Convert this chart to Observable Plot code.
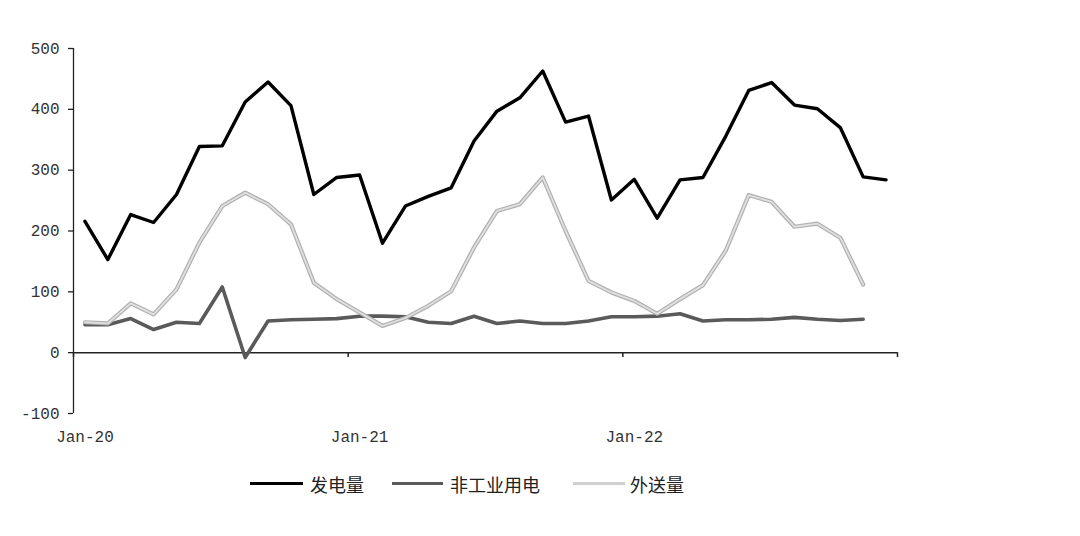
<!DOCTYPE html>
<html><head><meta charset="utf-8">
<script src="https://cdn.jsdelivr.net/npm/d3@7"></script>
<script src="https://cdn.jsdelivr.net/npm/@observablehq/plot@0.6"></script>
<style>
body{margin:0;background:#fff;}
#wrap{position:relative;width:1080px;height:536px;background:#fff;overflow:hidden;}
.sw{position:absolute;height:0;}
.lt{position:absolute;font-family:"Noto Sans CJK SC";font-size:18px;line-height:18px;color:#222;white-space:nowrap;}
</style></head><body><div id="wrap"><div id="chart"></div></div>
<script>
const months = ["2020-01","2020-02","2020-03","2020-04","2020-05","2020-06","2020-07","2020-08","2020-09","2020-10","2020-11","2020-12",
  "2021-01","2021-02","2021-03","2021-04","2021-05","2021-06","2021-07","2021-08","2021-09","2021-10","2021-11","2021-12",
  "2022-01","2022-02","2022-03","2022-04","2022-05","2022-06","2022-07","2022-08","2022-09","2022-10","2022-11","2022-12"];
const generation = [216,153,227,214,260,339,340,412,445,406,260,288,292,180,241,257,271,348,397,419,463,379,389,251,285,221,284,288,356,431,444,407,401,370,289,284];
const nonIndustrial = [46,46,56,38,50,48,108,-8,52,54,55,56,60,60,59,50,48,60,48,52,48,48,52,59,59,60,64,52,54,54,55,58,55,53,55,null];
const exported = [50,48,81,63,104,181,241,263,244,211,115,88,66,44,57,77,101,173,233,244,288,200,118,99,85,64,88,111,168,259,248,207,212,189,112,null];
const seriesNames = ["发电量","非工业用电","外送量"];
const tickMonths = ["2020-01","2021-01","2022-01"];
const tickLabels = ["Jan-20","Jan-21","Jan-22"];
const yTicks = [-100,0,100,200,300,400,500];

const rows = vals => months.map((m,i)=>({i, m, v: vals[i]})).filter(d => d.v != null);
const boundaries = tickMonths.map(m => months.indexOf(m) - 0.5).concat([months.length - 0.5]);
const tickIdx = tickMonths.map(m => months.indexOf(m));

const chart = Plot.plot({
  width: 1080, height: 465,
  marginLeft: 73, marginRight: 183, marginTop: 48, marginBottom: 52,
  x: {type: "linear", domain: [-0.5, months.length - 0.5], axis: null},
  y: {domain: [-100, 500], axis: null},
  style: {fontFamily: "Liberation Mono", fontSize: "16px", color: "#333", background: "#fff"},
  marks: [
    Plot.axisY({ticks: yTicks, tickFormat: d => String(d), label: null, tickSize: 5, tickPadding: 9, fontSize: 16, stroke: "#222", strokeWidth: 1.3}),
    Plot.ruleX([-0.5], {y1: -100, y2: 500, stroke: "#222", strokeWidth: 1.3}),
    Plot.ruleY([0], {stroke: "#222", strokeWidth: 1.5}),
    Plot.ruleX(boundaries, {y1: 0, y2: -8, stroke: "#222", strokeWidth: 1.5}),
    Plot.axisX({ticks: tickIdx, tickFormat: i => tickLabels[tickIdx.indexOf(i)], label: null, tickSize: 0, tickPadding: 17, fontSize: 16}),
    Plot.line(rows(generation), {x: "i", y: "v", stroke: "#000", strokeWidth: 3.4, strokeLinejoin: "round"}),
    Plot.line(rows(nonIndustrial), {x: "i", y: "v", stroke: "#5a5a5a", strokeWidth: 3.6, strokeLinejoin: "round"}),
    Plot.line(rows(exported), {x: "i", y: "v", stroke: "#b0b0b0", strokeWidth: 4.2, strokeLinejoin: "round"}),
    Plot.line(rows(exported), {x: "i", y: "v", stroke: "#e0e0e0", strokeWidth: 1.8, strokeLinejoin: "round"})
  ]
});
const wrap = document.getElementById("chart");
wrap.appendChild(chart);

// legend below the chart
const legend = [
  {name: seriesNames[0], color: "#000", x1: 250, x2: 303, tx: 310},
  {name: seriesNames[1], color: "#5a5a5a", x1: 392, x2: 443, tx: 450},
  {name: seriesNames[2], color: "#cfcfcf", x1: 573, x2: 625, tx: 630}
];
const W = document.getElementById("wrap");
legend.forEach(l => {
  const s = document.createElement("div");
  s.className = "sw";
  s.style.left = l.x1 + "px"; s.style.width = (l.x2 - l.x1) + "px";
  s.style.top = "482px"; s.style.borderTop = "3.5px solid " + l.color;
  W.appendChild(s);
  const t = document.createElement("div");
  t.className = "lt"; t.textContent = l.name;
  t.style.left = l.tx + "px"; t.style.top = "475px";
  W.appendChild(t);
});
</script></body></html>
